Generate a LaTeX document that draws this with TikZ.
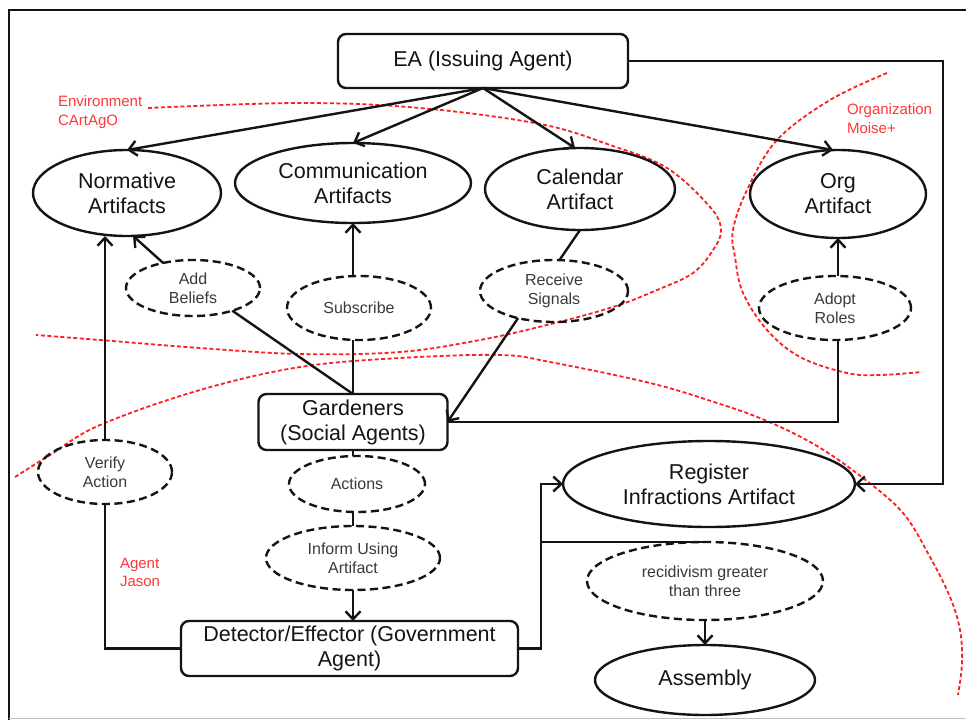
\documentclass[tikz,border=0pt]{standalone}
\usepackage{fontspec}
\setmainfont{Liberation Sans}
\usetikzlibrary{shapes.geometric,arrows.meta}
\definecolor{inkcol}{HTML}{141414}
\definecolor{softink}{HTML}{3A3A3A}
\definecolor{zonered}{HTML}{FF1E1E}
\definecolor{zonetext}{HTML}{FF3838}
\begin{document}
\begin{tikzpicture}[x=1pt,y=-1pt,
  every node/.style={inner sep=0pt, outer sep=0pt},
  solidell/.style={ellipse, draw=inkcol, line width=2.4pt, align=center, text=inkcol,
    font=\fontsize{21.5}{25}\selectfont},
  dashell/.style={ellipse, draw=inkcol, line width=2.4pt, dash pattern=on 8pt off 4.5pt,
    align=center, text=softink, font=\fontsize{16}{19}\selectfont},
  agentbox/.style={rectangle, rounded corners=8pt, draw=inkcol, line width=2.4pt,
    align=center, text=inkcol, font=\fontsize{21.5}{25}\selectfont},
  link/.style={draw=inkcol, line width=2.4pt},
  arr/.style={link, -{Straight Barb[length=8pt,width=15pt]}},
  zone/.style={draw=zonered, line width=1.8pt, dash pattern=on 4pt off 2.5pt},
  zonelabel/.style={text=zonetext, font=\fontsize{15}{18.5}\selectfont, align=left, anchor=north west},
]
\useasboundingbox (0,0) rectangle (966,720);
\fill[white] (0,0) rectangle (966,720);

% outer frame
\draw[line width=2.2pt, draw=inkcol] (9,720) -- (9,10) -- (970,10);
\draw[line width=1pt, draw=black!25] (9,718.5) -- (966,718.5);

% zone boundaries
\draw[zone] plot[smooth, tension=0.6] coordinates {
  (148,108) (300,103) (420,108) (540,124) (610,145) (667,168) (710,207)
  (721,230) (713,250) (693,273) (657,290) (613,307) (547,325) (480,340)
  (400,352) (300,354) (200,348) (100,340) (36,335)};
\draw[zone] plot[smooth, tension=0.6] coordinates {
  (887,73) (830,100) (777,140) (747,190) (733,230) (735,257) (743,293)
  (767,330) (800,357) (847,373) (880,375) (922,372)};
\draw[zone] plot[smooth, tension=0.6] coordinates {
  (15,477) (50,455) (100,425) (200,390) (300,367) (400,358) (500,355)
  (550,362) (650,383) (717,403) (767,421) (817,446) (863,478) (903,513)
  (930,557) (950,597) (960,630) (962,663) (958,695)};

\node[zonelabel] (envlbl) at (58,96) {Environment\\CArtAgO};
\node[zonelabel] (orglbl) at (847,104) {Organization\\Moise+};
\node[zonelabel] (agtlbl) at (120,558) {Agent\\Jason};

% agents
\node[agentbox, minimum width=290pt, minimum height=54pt] (ea) at (483,61) {EA (Issuing Agent)};
\node[agentbox, minimum width=189pt, minimum height=56pt] (gard) at (353,422) {Gardeners\\(Social Agents)};
\node[agentbox, minimum width=337pt, minimum height=55pt] (det) at (349.5,648.5) {Detector/Effector (Government\\Agent)};

% artifacts
\node[solidell, minimum width=188pt, minimum height=86pt] (norm) at (127,193) {Normative\\Artifacts};
\node[solidell, minimum width=236pt, minimum height=80pt] (comm) at (353,183) {Communication\\Artifacts};
\node[solidell, minimum width=190pt, minimum height=82pt] (cal) at (580,189) {Calendar\\Artifact};
\node[solidell, minimum width=176pt, minimum height=88pt] (org) at (838,194) {Org\\Artifact};
\node[solidell, minimum width=292pt, minimum height=86pt] (reg) at (709,484) {Register\\Infractions Artifact};
\node[solidell, minimum width=220pt, minimum height=70pt] (asm) at (705,680) {Assembly};

% actions
\node[dashell, minimum width=134pt, minimum height=56pt] (add) at (193,288) {Add\\Beliefs};
\node[dashell, minimum width=144pt, minimum height=64pt] (sub) at (359,308) {Subscribe};
\node[dashell, minimum width=148pt, minimum height=62pt] (rec) at (554,291) {Receive\\Signals};
\node[dashell, minimum width=152pt, minimum height=64pt] (adopt) at (835,308) {Adopt\\Roles};
\node[dashell, minimum width=134pt, minimum height=64pt] (ver) at (105,472) {Verify\\Action};
\node[dashell, minimum width=136pt, minimum height=56pt] (act) at (357,484) {Actions};
\node[dashell, minimum width=174pt, minimum height=64pt] (inf) at (353,558) {Inform Using\\Artifact};
\node[dashell, minimum width=236pt, minimum height=78pt] (rcd) at (705,581) {recidivism greater\\than three};

% connectors
\draw[arr] (ea.south) -- (norm.north);
\draw[arr] (ea.south) -- (comm.north);
\draw[arr] (ea.south) -- ([xshift=-5pt]cal.north);
\draw[arr] (ea.south) -- ([xshift=-5pt]org.north);
\coordinate (eabend) at (943,61);
\draw[arr] (ea.east) -- (eabend) |- (reg.east);

\draw[arr] (add.140) -- (norm.-82);
\draw[link] (add.-30) -- (gard.north);
\draw[arr] (sub.north -| comm.south) -- (comm.south);
\draw[link] (gard.north) -- (gard.north |- sub.south);
\draw[link] (cal.south) -- (rec.80);
\draw[arr] (rec.-143) -- (gard.east);
\draw[arr] (org.south |- adopt.north) -- (org.south);
\draw[link] (org.south |- adopt.south) |- (gard.east);

\draw[arr] (ver.north) -- (ver.north |- norm.south);
\draw[link] (det.west) -| (ver.south);

\draw[link] (gard.south) -- (gard.south |- act.north);
\draw[link] (gard.south |- act.south) -- (gard.south |- inf.north);
\draw[arr] (inf.south) -- (inf.south |- det.north);

\coordinate (detbend) at (541,648.5);
\draw[arr] (det.east) -- (detbend) |- (reg.west);
\draw[link] (detbend |- rcd.north) -- (rcd.north);
\draw[arr] (rcd.south) -- (asm.north);
\end{tikzpicture}
\end{document}
